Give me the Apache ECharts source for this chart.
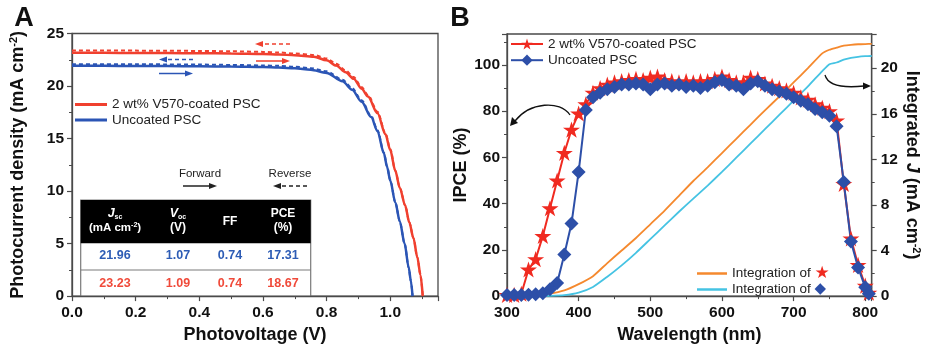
<!DOCTYPE html>
<html><head><meta charset="utf-8">
<script src="https://cdn.jsdelivr.net/npm/echarts@6/dist/echarts.min.js"></script>
<style>html,body{margin:0;padding:0;background:#fff}#c{width:939px;height:349px}</style>
</head><body><div id="c"></div><script>
// ---------- Panel A: J-V curves [V, J] ----------
const jvRedForward = [[0,23.16],[0.1,23.16],[0.2,23.15],[0.3,23.14],[0.4,23.12],[0.5,23.1],[0.6,23.05],[0.65,23.0],[0.7,22.93],[0.76,22.79],[0.8,22.45],[0.83,21.95],[0.86,21.3],[0.885,20.69],[0.91,19.75],[0.93,19.0],[0.96,17.4],[0.985,15.4],[1.0,13.9],[1.016,11.9],[1.03,10.3],[1.047,8.6],[1.06,7.0],[1.073,5.5],[1.085,3.7],[1.095,2.0],[1.102,0]];
const jvRedReverse = [[0,23.38],[0.1,23.38],[0.2,23.37],[0.3,23.36],[0.4,23.34],[0.5,23.31],[0.6,23.25],[0.65,23.19],[0.7,23.1],[0.76,22.95],[0.8,22.62],[0.83,22.12],[0.86,21.47],[0.885,20.85],[0.91,19.9],[0.93,19.15],[0.96,17.55],[0.985,15.5],[1.0,14.0],[1.016,11.95],[1.03,10.35],[1.047,8.63],[1.06,7.02],[1.073,5.5],[1.085,3.7],[1.095,2.0],[1.102,0]];
const jvBlueForward = [[0,21.92],[0.1,21.92],[0.2,21.91],[0.3,21.9],[0.4,21.88],[0.5,21.85],[0.6,21.8],[0.65,21.76],[0.7,21.68],[0.75,21.55],[0.8,21.25],[0.85,20.45],[0.88,19.65],[0.91,18.5],[0.94,17.05],[0.96,15.7],[0.98,13.6],[0.99,12.3],[1.0,11.0],[1.016,8.9],[1.03,7.1],[1.045,5.0],[1.058,2.7],[1.065,1.4],[1.07,0]];
const jvBlueReverse = [[0,22.08],[0.1,22.08],[0.2,22.07],[0.3,22.06],[0.4,22.04],[0.5,22.01],[0.6,21.96],[0.65,21.92],[0.7,21.84],[0.75,21.7],[0.8,21.4],[0.85,20.6],[0.88,19.8],[0.91,18.65],[0.94,17.15],[0.96,15.8],[0.98,13.65],[0.99,12.35],[1.0,11.05],[1.016,8.92],[1.03,7.12],[1.045,5.0],[1.058,2.7],[1.065,1.4],[1.07,0]];

// ---------- Panel A: table ----------
const tableColumns = ['Jsc', 'Voc', 'FF', 'PCE'];
const tableBlueRow = ['21.96', '1.07', '0.74', '17.31'];
const tableRedRow = ['23.23', '1.09', '0.74', '18.67'];

// ---------- Panel B: IPCE (%) ----------
const wavelengths = [300,310,320,330,340,350,360,370,380,390,400,410,420,430,440,450,460,470,480,490,500,510,520,530,540,550,560,570,580,590,600,610,620,630,640,650,660,670,680,690,700,710,720,730,740,750,760,770,780,790,800,805];
const ipceCoated = [0.5,0.5,1,11.5,16,26,38,50,62,72,79,83,88,90,91.5,92.5,93,93.5,94,93.5,94.5,95,93.5,93,92.5,93,92.5,93,93,94,95,93.5,92.5,92.5,94.5,94,92,91,90,89,88,86,85,83,81.5,80,76,48.5,25,13.5,4.5,1.5];
const ipceUncoated = [0.5,0.5,0.5,0.6,0.8,1.2,3,5.7,18,31.4,53.7,80.5,86,88,89.5,90.5,91.5,91.5,92,91.5,89.5,91.5,92,91,91.5,90.5,91,90,91,92.5,93.5,91.5,91,89.5,92,93,91,89.5,88.5,87.5,86,84.5,83,81,79.5,78,73.5,49.4,23.6,12.4,3.8,1];

// ---------- Panel B: integrated J (mA cm-2) ----------
const intWavelengths = [300,320,340,360,380,400,420,440,460,480,500,520,540,560,580,600,620,640,660,680,700,720,740,750,760,770,780,790,800,809];
const intCoated = [0,0.05,0.1,0.22,0.5,1.05,1.75,2.9,4.0,5.1,6.3,7.5,8.8,10.1,11.3,12.55,13.8,15.05,16.3,17.5,18.75,20.0,21.3,21.62,21.8,21.97,22.05,22.1,22.12,22.13];
const intUncoated = [0,0,0,0.02,0.08,0.3,0.8,1.7,2.7,3.8,5.0,6.2,7.4,8.55,9.7,10.9,12.15,13.4,14.65,15.9,17.15,18.4,19.75,20.35,20.5,20.75,20.9,21.0,21.05,21.07];

const legendLabels = {
  A_red_f: '2 wt% V570-coated PSC', A_blue_f: 'Uncoated PSC',
  B_red: '2 wt% V570-coated PSC', B_blue: 'Uncoated PSC',
  B_int_red: '{t|Integration of }{s|★}', B_int_blue: '{t|Integration of }{d|◆}'
};

const FONT = '"Liberation Sans", Arial, Helvetica, sans-serif';
const AX = '#4a4a4a';
const RED = '#f0402f', BLUE = '#2b55b5';
const STAR = 'path://M50,0 L61.2,34.5 L97.6,34.5 L68.2,55.9 L79.4,90.5 L50,69.1 L20.6,90.5 L31.8,55.9 L2.4,34.5 L38.8,34.5 Z';

const pairs = (xs, ys) => xs.map((x, i) => [x, ys[i]]);

function baseAxis(extra) {
  return Object.assign({
    type: 'value',
    axisLine: {show: true, onZero: false, lineStyle: {color: AX, width: 1.3}},
    axisTick: {show: true, inside: false, length: 5, lineStyle: {color: AX, width: 1.2}},
    minorTick: {show: true, splitNumber: 2, length: 3, lineStyle: {color: AX, width: 1}},
    splitLine: {show: false},
    axisLabel: {color: '#111', fontFamily: FONT, fontWeight: 'bold', fontSize: 15.5},
    nameLocation: 'middle',
    nameTextStyle: {color: '#111', fontFamily: FONT, fontWeight: 'bold', fontSize: 18}
  }, extra);
}
const richTitle = {
  b: {fontFamily: FONT, fontWeight: 'bold', fontSize: 18, color: '#111', lineHeight: 20},
  i: {fontFamily: FONT, fontWeight: 'bold', fontStyle: 'italic', fontSize: 18, color: '#111', lineHeight: 20},
  sup: {fontFamily: FONT, fontWeight: 'bold', fontSize: 11, color: '#111', verticalAlign: 'top', lineHeight: 12}
};

function arrow(x1, x2, y, color, dashed) {
  const dir = x2 > x1 ? 1 : -1;
  return [
    {type: 'line', shape: {x1: x1, y1: y, x2: x2 - dir * 5, y2: y}, style: {stroke: color, lineWidth: 1.5, lineDash: dashed ? [4, 3] : null}},
    {type: 'polygon', shape: {points: [[x2, y], [x2 - dir * 8, y - 3], [x2 - dir * 8, y + 3]]}, style: {fill: color}}
  ];
}
function txt(x, y, text, style) {
  return {type: 'text', x: x, y: y, style: Object.assign({text: text, align: 'center', verticalAlign: 'middle', fontFamily: FONT}, style)};
}

const colX = [115, 178, 230, 283];
const graphics = [
  txt(24, 19, 'A', {fontSize: 27, fontWeight: 'bold', fill: '#111'}),
  txt(460, 19, 'B', {fontSize: 27, fontWeight: 'bold', fill: '#111'}),
  ...arrow(290, 255, 44, RED, true),
  ...arrow(256, 290, 61, RED, false),
  ...arrow(193, 159, 59.5, BLUE, true),
  ...arrow(159, 193, 73.5, BLUE, false),
  txt(200, 174, 'Forward', {fontSize: 11.5, fill: '#222'}),
  txt(290, 174, 'Reverse', {fontSize: 11.5, fill: '#222'}),
  ...arrow(183, 217, 186, '#222', false),
  ...arrow(307, 273, 186, '#222', true),
  // table
  {type: 'rect', shape: {x: 80.7, y: 200, width: 230, height: 96}, style: {fill: '#fff', stroke: '#7a7a7a', lineWidth: 1.2}},
  {type: 'rect', shape: {x: 80.7, y: 200, width: 230, height: 43.3}, style: {fill: '#000'}},
  {type: 'line', shape: {x1: 80.7, y1: 270, x2: 310.7, y2: 270}, style: {stroke: '#7a7a7a', lineWidth: 1.2}},
  {type: 'text', x: colX[0], y: 214, style: {text: '{i|J}{s|sc}', align: 'center', verticalAlign: 'middle',
    rich: {i: {fontFamily: FONT, fontSize: 12.5, fontWeight: 'bold', fontStyle: 'italic', fill: '#fff', lineHeight: 14},
           s: {fontFamily: FONT, fontSize: 7, fontWeight: 'bold', fill: '#fff', verticalAlign: 'bottom', lineHeight: 8}}}},
  {type: 'text', x: colX[0], y: 228, style: {text: '{n|(mA cm}{p|-2}{n|)}', align: 'center', verticalAlign: 'middle',
    rich: {n: {fontFamily: FONT, fontSize: 11.5, fontWeight: 'bold', fill: '#fff', lineHeight: 13},
           p: {fontFamily: FONT, fontSize: 7, fontWeight: 'bold', fill: '#fff', verticalAlign: 'top', lineHeight: 8}}}},
  {type: 'text', x: colX[1], y: 214, style: {text: '{i|V}{s|oc}', align: 'center', verticalAlign: 'middle',
    rich: {i: {fontFamily: FONT, fontSize: 12.5, fontWeight: 'bold', fontStyle: 'italic', fill: '#fff', lineHeight: 14},
           s: {fontFamily: FONT, fontSize: 7, fontWeight: 'bold', fill: '#fff', verticalAlign: 'bottom', lineHeight: 8}}}},
  txt(colX[1], 228, '(V)', {fontSize: 12, fontWeight: 'bold', fill: '#fff'}),
  txt(colX[2], 221.5, tableColumns[2], {fontSize: 12, fontWeight: 'bold', fill: '#fff'}),
  txt(colX[3], 214, tableColumns[3], {fontSize: 12, fontWeight: 'bold', fill: '#fff'}),
  txt(colX[3], 228, '(%)', {fontSize: 12, fontWeight: 'bold', fill: '#fff'}),
  ...tableBlueRow.map((v, i) => txt(colX[i], 256, v, {fontSize: 12.5, fontWeight: 'bold', fill: '#2d5cb5'})),
  ...tableRedRow.map((v, i) => txt(colX[i], 284, v, {fontSize: 12.5, fontWeight: 'bold', fill: '#f04a3a'})),
  // panel B curved arrows
  {type: 'bezierCurve', shape: {x1: 570, y1: 115, cpx1: 560, cpy1: 100, cpx2: 530, cpy2: 102, x2: 515, y2: 121}, style: {stroke: '#111', lineWidth: 1.3, fill: null}},
  {type: 'polygon', shape: {points: [[510, 126], [512, 117], [518, 123]]}, style: {fill: '#111'}},
  {type: 'bezierCurve', shape: {x1: 825, y1: 75, cpx1: 828, cpy1: 86, cpx2: 845, cpy2: 88, x2: 864, y2: 86}, style: {stroke: '#111', lineWidth: 1.3, fill: null}},
  {type: 'polygon', shape: {points: [[871, 86], [863, 82.5], [863, 89.5]]}, style: {fill: '#111'}}
];

const chart = echarts.init(document.getElementById('c'));
chart.setOption({
  animation: false,
  backgroundColor: '#fff',
  textStyle: {fontFamily: FONT},
  grid: [
    {left: 72, top: 33.5, width: 366, height: 269.5, show: true, borderColor: AX, borderWidth: 1.3},
    {left: 507, top: 34, width: 364.7, height: 268.7, show: true, borderColor: AX, borderWidth: 1.3}
  ],
  xAxis: [
    baseAxis({gridIndex: 0, min: 0, max: 1.15, interval: 0.2, name: 'Photovoltage (V)', nameGap: 28,
      axisLabel: {color: '#111', fontFamily: FONT, fontWeight: 'bold', fontSize: 15.5, margin: 9, showMaxLabel: false, formatter: v => v.toFixed(1)}}),
    baseAxis({gridIndex: 1, min: 300, max: 809, interval: 100, name: 'Wavelength (nm)', nameGap: 26,
      axisLabel: {color: '#111', fontFamily: FONT, fontWeight: 'bold', fontSize: 15.5, margin: 9, showMaxLabel: false}})
  ],
  yAxis: [
    baseAxis({gridIndex: 0, min: 0, max: 25, interval: 5, nameGap: 44,
      name: '{b|Photocurrent density (mA cm}{sup|-2}{b|)}', nameTextStyle: {rich: richTitle},
      axisLabel: {color: '#111', fontFamily: FONT, fontWeight: 'bold', fontSize: 15.5, margin: 8}}),
    baseAxis({gridIndex: 1, min: 0, max: 113.4, interval: 20, nameGap: 34, name: 'IPCE (%)',
      axisLabel: {color: '#111', fontFamily: FONT, fontWeight: 'bold', fontSize: 15.5, margin: 7, showMaxLabel: false}}),
    baseAxis({gridIndex: 1, min: 0, max: 23, interval: 4, position: 'right', nameGap: 30, nameRotate: -90,
      name: '{b|Integrated }{i|J}{b| (mA cm}{sup|-2}{b|)}', nameTextStyle: {rich: richTitle},
      axisLabel: {color: '#111', fontFamily: FONT, fontWeight: 'bold', fontSize: 15.5, margin: 9, showMaxLabel: false}})
  ],
  legend: [
    {data: [{name: 'A_red_f', icon: 'rect'}, {name: 'A_blue_f', icon: 'rect'}], orient: 'vertical', left: 70, top: 92, itemWidth: 32, itemHeight: 3, itemGap: 0.5,
     formatter: n => legendLabels[n], textStyle: {fontFamily: FONT, fontSize: 13.5, color: '#222', lineHeight: 15}},
    {data: ['B_red', 'B_blue'], orient: 'vertical', left: 505, top: 32, itemWidth: 32, itemHeight: 14, itemGap: 2.2,
     formatter: n => legendLabels[n], textStyle: {fontFamily: FONT, fontSize: 13.5, color: '#222'}},
    {data: [{name: 'B_int_red', icon: 'rect'}, {name: 'B_int_blue', icon: 'rect'}], orient: 'vertical', left: 692, top: 260, itemWidth: 30, itemHeight: 2.5, itemGap: 0,
     formatter: n => legendLabels[n], textStyle: {fontFamily: FONT, fontSize: 13.5, color: '#222',
       rich: {t: {fontFamily: FONT, fontSize: 13.5, color: '#222', lineHeight: 14},
              s: {fontSize: 17, color: '#f02a20', fontFamily: 'DejaVu Sans', lineHeight: 14},
              d: {fontSize: 15, color: '#2d4fa8', fontFamily: 'DejaVu Sans', lineHeight: 14}}}}
  ],
  series: [
    {name: 'A_red_r', type: 'line', xAxisIndex: 0, yAxisIndex: 0, data: jvRedReverse, symbol: 'none', smooth: 0.3, smoothMonotone: 'x',
     color: RED, lineStyle: {color: RED, width: 2, type: [4, 3]}},
    {name: 'A_blue_r', type: 'line', xAxisIndex: 0, yAxisIndex: 0, data: jvBlueReverse, symbol: 'none', smooth: 0.3, smoothMonotone: 'x',
     color: BLUE, lineStyle: {color: BLUE, width: 2, type: [4, 3]}},
    {name: 'A_red_f', type: 'line', xAxisIndex: 0, yAxisIndex: 0, data: jvRedForward, symbol: 'none', smooth: 0.3, smoothMonotone: 'x',
     color: RED, lineStyle: {color: RED, width: 2.5}},
    {name: 'A_blue_f', type: 'line', xAxisIndex: 0, yAxisIndex: 0, data: jvBlueForward, symbol: 'none', smooth: 0.3, smoothMonotone: 'x',
     color: BLUE, lineStyle: {color: BLUE, width: 2.5}},
    {name: 'B_int_red', type: 'line', xAxisIndex: 1, yAxisIndex: 2, data: pairs(intWavelengths, intCoated), symbol: 'none', smooth: 0.2,
     color: '#f5892e', lineStyle: {color: '#f5892e', width: 1.8}},
    {name: 'B_int_blue', type: 'line', xAxisIndex: 1, yAxisIndex: 2, data: pairs(intWavelengths, intUncoated), symbol: 'none', smooth: 0.2,
     color: '#45c3e3', lineStyle: {color: '#45c3e3', width: 1.8}},
    {name: 'B_red', type: 'line', xAxisIndex: 1, yAxisIndex: 1, data: pairs(wavelengths, ipceCoated), symbol: STAR, symbolSize: 17, symbolKeepAspect: true,
     color: '#f02a20', itemStyle: {color: '#f02a20'}, lineStyle: {color: '#f02a20', width: 2}},
    {name: 'B_blue', type: 'line', xAxisIndex: 1, yAxisIndex: 1, data: pairs(wavelengths, ipceUncoated), symbol: 'diamond', symbolSize: 14,
     color: '#2d4fa8', itemStyle: {color: '#2d4fa8'}, lineStyle: {color: '#2d4fa8', width: 2}}
  ],
  graphic: graphics
});
</script></body></html>
